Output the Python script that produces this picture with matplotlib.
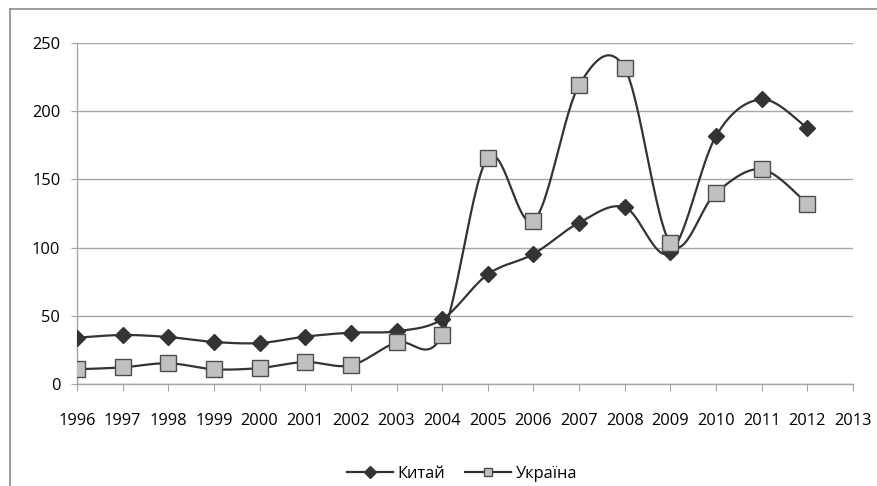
import numpy as np
import matplotlib
matplotlib.use("Agg")
import matplotlib.pyplot as plt
from matplotlib.lines import Line2D

years = list(range(1996, 2013))
china = [34.1, 36.1, 34.6, 31.0, 30.2, 34.9, 37.8, 38.8, 47.6,
         80.5, 95.4, 118.3, 129.6, 96.5, 181.8, 208.6, 187.6]
ukraine = [11.0, 12.4, 15.4, 11.0, 11.9, 16.3, 13.9, 30.7, 36.1,
           165.9, 119.5, 219.0, 231.3, 103.2, 140.3, 157.4, 132.2]
x_ticks = list(range(1996, 2014))
y_ticks = [0, 50, 100, 150, 200, 250]
series_names = ["Китай", "Україна"]

plt.rcParams['font.family'] = ['Open Sans', 'DejaVu Sans']


def smooth(x, y, n=30):
    x = np.asarray(x, float)
    y = np.asarray(y, float)
    P = np.column_stack([x, y])
    out = []
    m = len(P)
    for i in range(m - 1):
        p0 = P[i - 1] if i > 0 else P[i]
        p1 = P[i]
        p2 = P[i + 1]
        p3 = P[i + 2] if i + 2 < m else P[i + 1]
        c1 = p1 + (p2 - p0) / 6.0
        c2 = p2 - (p3 - p1) / 6.0
        t = np.linspace(0, 1, n)[:, None]
        seg = ((1 - t) ** 3) * p1 + 3 * ((1 - t) ** 2) * t * c1 + 3 * (1 - t) * t ** 2 * c2 + t ** 3 * p2
        if i > 0:
            seg = seg[1:]
        out.append(seg)
    out = np.vstack(out)
    return out[:, 0], out[:, 1]


W, H = 877, 486
fig = plt.figure(figsize=(W / 100, H / 100), dpi=100)
ax = fig.add_axes([77 / W, 1 - 384.3 / H, (853 - 77) / W, (384.3 - 42.8) / H])

line_col = '#333333'
grid_col = '#a6a6a6'

sx, sy = smooth(years, china)
ax.plot(sx, sy, color=line_col, lw=1.6, zorder=3, solid_capstyle='round')
ax.plot(years, china, linestyle='none', marker='D', ms=8.5, mfc='#333333',
        mec='#333333', zorder=4)
ux, uy = smooth(years, ukraine)
ax.plot(ux, uy, color=line_col, lw=1.6, zorder=3, solid_capstyle='round')
ax.plot(years, ukraine, linestyle='none', marker='s', ms=11, mfc='#c0c0c0',
        mec='#4d4d4d', mew=1.0, zorder=5)

ax.set_xlim(1996, 2013)
ax.set_ylim(0, 250)
ax.set_xticks(x_ticks)
ax.set_xticklabels([str(v) for v in x_ticks])
ax.set_yticks(y_ticks)
ax.set_yticklabels([str(v) for v in y_ticks])
ax.yaxis.grid(True, color=grid_col, lw=1.0)
ax.set_axisbelow(True)
for s in ['top', 'right']:
    ax.spines[s].set_visible(False)
for s in ['left', 'bottom']:
    ax.spines[s].set_color(grid_col)
    ax.spines[s].set_linewidth(1.0)
ax.tick_params(axis='x', direction='out', length=5, color=grid_col, pad=15.5,
               labelsize=11.8, labelcolor='black')
ax.tick_params(axis='y', direction='out', length=4, color=grid_col, pad=8,
               labelsize=11.8, labelcolor='black')

handles = [
    Line2D([], [], color=line_col, lw=1.6, marker='D', ms=6, mfc='#333333', mec='#333333'),
    Line2D([], [], color=line_col, lw=1.6, marker='s', ms=6, mfc='#c0c0c0', mec='#4d4d4d'),
]
fig.legend(handles, series_names, loc='center', bbox_to_anchor=(462 / W, 1 - 474 / H),
           ncol=2, frameon=False, fontsize=11.8, handlelength=2.8, handletextpad=0.3,
           columnspacing=1.2, numpoints=1, borderpad=0)

# outer chart frame
fig.add_artist(Line2D([9.5 / W, 9.5 / W], [0, 1 - 9.5 / H], color='#8c8c8c', lw=1.2,
                      transform=fig.transFigure))
fig.add_artist(Line2D([9.5 / W, 1], [1 - 9.5 / H, 1 - 9.5 / H], color='#8c8c8c', lw=1.2,
                      transform=fig.transFigure))

fig.savefig('out.png', dpi=100)
